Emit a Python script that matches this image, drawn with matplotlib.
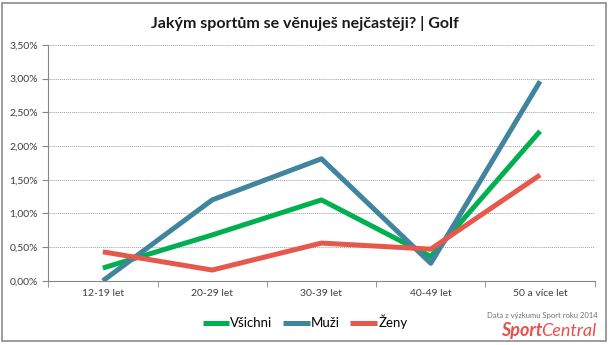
import matplotlib.pyplot as plt
from matplotlib.patches import Rectangle
from matplotlib.ticker import FuncFormatter, FixedLocator

plt.rcParams['font.family'] = ['Lato', 'DejaVu Sans']

# kategorie a podíly (v %)
kategorie = ['12-19 let', '20-29 let', '30-39 let', '40-49 let', '50 a více let']
vsichni = [0.19, 0.68, 1.20, 0.36, 2.22]
muzi = [0.00, 1.20, 1.81, 0.26, 2.96]
zeny = [0.43, 0.16, 0.56, 0.47, 1.57]

fig = plt.figure(figsize=(6.1, 3.45), dpi=100)
ax = fig.add_axes([0.079, 0.186, 0.896, 0.684])

x = range(len(kategorie))
ax.plot(x, vsichni, color='#00b050', lw=3.6, label='Všichni', solid_capstyle='butt')
ax.plot(x, muzi, color='#41849e', lw=3.6, label='Muži', solid_capstyle='butt')
ax.plot(x, zeny, color='#e8574b', lw=3.6, label='Ženy', solid_capstyle='butt')

ax.set_xlim(-0.5, 4.5)
ax.set_ylim(0, 3.5)
ax.set_yticks([i * 0.5 for i in range(8)])
ax.yaxis.set_major_formatter(FuncFormatter(lambda v, p: f'{v:.2f}%'.replace('.', ',')))
ax.set_xticks(list(x))
ax.set_xticklabels(kategorie)
ax.xaxis.set_minor_locator(FixedLocator([i + 0.5 for i in range(-1, 5)]))
ax.tick_params(axis='x', which='major', length=0, labelsize=7.5, colors='#404040', pad=6)
ax.tick_params(axis='x', which='minor', length=4, color='#868686')
ax.tick_params(axis='y', length=4, color='#868686', labelsize=7.5, labelcolor='#404040')

ax.grid(axis='y', linestyle=(0, (1, 1)), color='#a0a0a0', lw=0.7)
ax.set_axisbelow(True)
for s in ['top', 'right']:
    ax.spines[s].set_visible(False)
for s in ['left', 'bottom']:
    ax.spines[s].set_color('#868686')

fig.suptitle('Jakým sportům se věnuješ nejčastěji? | Golf', fontsize=11.5,
             fontweight='bold', y=0.955, color='#1a1a1a')

ax.legend(loc='center', bbox_to_anchor=(0.47, -0.175), ncol=3, frameon=False,
          handlelength=2.0, handletextpad=0.1, columnspacing=0.8, fontsize=9.5)

fig.text(0.98, 0.078, 'Data z výzkumu Sport roku 2014', ha='right', fontsize=5.5, color='#707070')
fig.text(0.89, 0.025, 'Sport', ha='right', fontsize=13, color='#e8504a',
         fontweight='bold', style='italic')
fig.text(0.887, 0.025, 'Central', ha='left', fontsize=13, color='#e8504a', style='italic')

fig.patches.append(Rectangle((0.003, 0.012), 0.991, 0.98, transform=fig.transFigure,
                             fill=False, edgecolor='#8c8c8c', lw=1.2))

fig.savefig('out.png', dpi=100)
